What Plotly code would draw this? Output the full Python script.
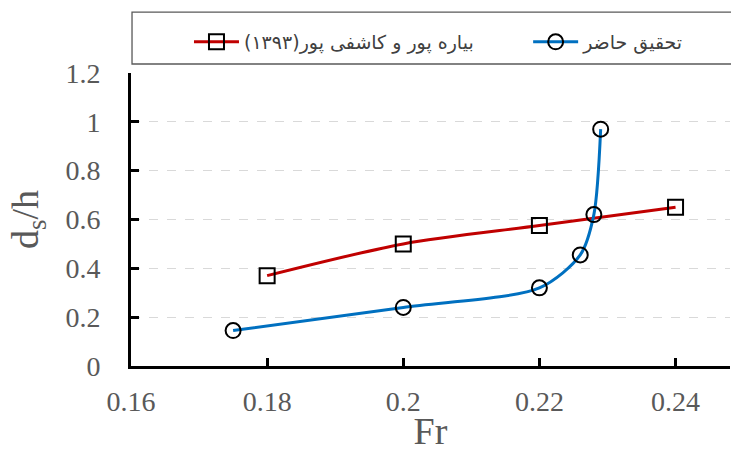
import plotly.graph_objects as go

# Data
fr_present = [0.175, 0.2, 0.22, 0.226, 0.228, 0.229]
ds_present = [0.145, 0.24, 0.32, 0.455, 0.62, 0.97]
fr_prev = [0.18, 0.2, 0.22, 0.24]
ds_prev = [0.37, 0.5, 0.575, 0.65]
name_prev = "بیاره پور و کاشفی پور(۱۳۹۳)"
name_present = "تحقیق حاضر"
x_ticks = [0.16, 0.18, 0.2, 0.22, 0.24]
x_tick_labels = ["0.16", "0.18", "0.2", "0.22", "0.24"]
y_ticks = [0, 0.2, 0.4, 0.6, 0.8, 1.0, 1.2]
y_tick_labels = ["0", "0.2", "0.4", "0.6", "0.8", "1", "1.2"]

fig = go.Figure()
fig.add_trace(go.Scatter(
    x=fr_prev, y=ds_prev, name=name_prev, mode="lines+markers", legend="legend",
    line=dict(color="#C00000", width=3, shape="spline", smoothing=0.8),
    marker=dict(symbol="square-open", size=15, color="black", line=dict(width=2, color="black")),
))
fig.add_trace(go.Scatter(
    x=fr_present, y=ds_present, name=name_present, mode="lines+markers", legend="legend2",
    line=dict(color="#0070C0", width=3, shape="spline", smoothing=0.8),
    marker=dict(symbol="circle-open", size=15, color="black", line=dict(width=2, color="black")),
))

serif = "Liberation Serif, Times New Roman, serif"
legend_font = dict(family="DejaVu Sans", size=19, color="#404040")
fig.update_layout(
    width=731, height=452,
    margin=dict(l=131, r=1, t=73, b=86),
    paper_bgcolor="white", plot_bgcolor="white",
    showlegend=True,
    legend=dict(
        orientation="h", x=0.0968, xanchor="left", y=1.106, yanchor="middle",
        font=legend_font, itemwidth=45, bgcolor="rgba(0,0,0,0)",
    ),
    legend2=dict(
        orientation="h", x=0.663, xanchor="left", y=1.106, yanchor="middle",
        font=legend_font, itemwidth=45, bgcolor="rgba(0,0,0,0)",
    ),
    xaxis=dict(
        range=[0.16, 0.248], tickvals=x_ticks, ticktext=x_tick_labels,
        showgrid=False, zeroline=False, automargin=False,
        showline=True, linecolor="black", linewidth=3,
        ticks="inside", ticklen=8, tickwidth=3, tickcolor="black",
        tickfont=dict(family=serif, size=28, color="#595959"),
        ticklabelstandoff=8,
        title=dict(text="Fr", font=dict(family=serif, size=38, color="#595959"), standoff=9),
    ),
    yaxis=dict(
        range=[0, 1.2], tickvals=y_ticks, ticktext=y_tick_labels,
        showgrid=True, gridcolor="#d9d9d9", griddash="dash", gridwidth=1,
        zeroline=False, automargin=False,
        showline=True, linecolor="black", linewidth=3,
        ticks="inside", ticklen=8, tickwidth=3, tickcolor="black",
        tickfont=dict(family=serif, size=28, color="#595959"),
        ticklabelstandoff=22,
        title=dict(text="d<sub>s</sub>/h", font=dict(family=serif, size=38, color="#595959"), standoff=16),
    ),
    shapes=[dict(
        type="rect", xref="paper", yref="paper",
        x0=0.0017, x1=1.2, y0=1.0307, y1=1.208,
        line=dict(color="#595959", width=1.3), fillcolor="rgba(0,0,0,0)", layer="above",
    )],
)

fig.write_html(
    "out.html",
    config={"displayModeBar": False},
    post_script="document.body.style.margin='0';document.body.style.overflow='hidden';",
)
